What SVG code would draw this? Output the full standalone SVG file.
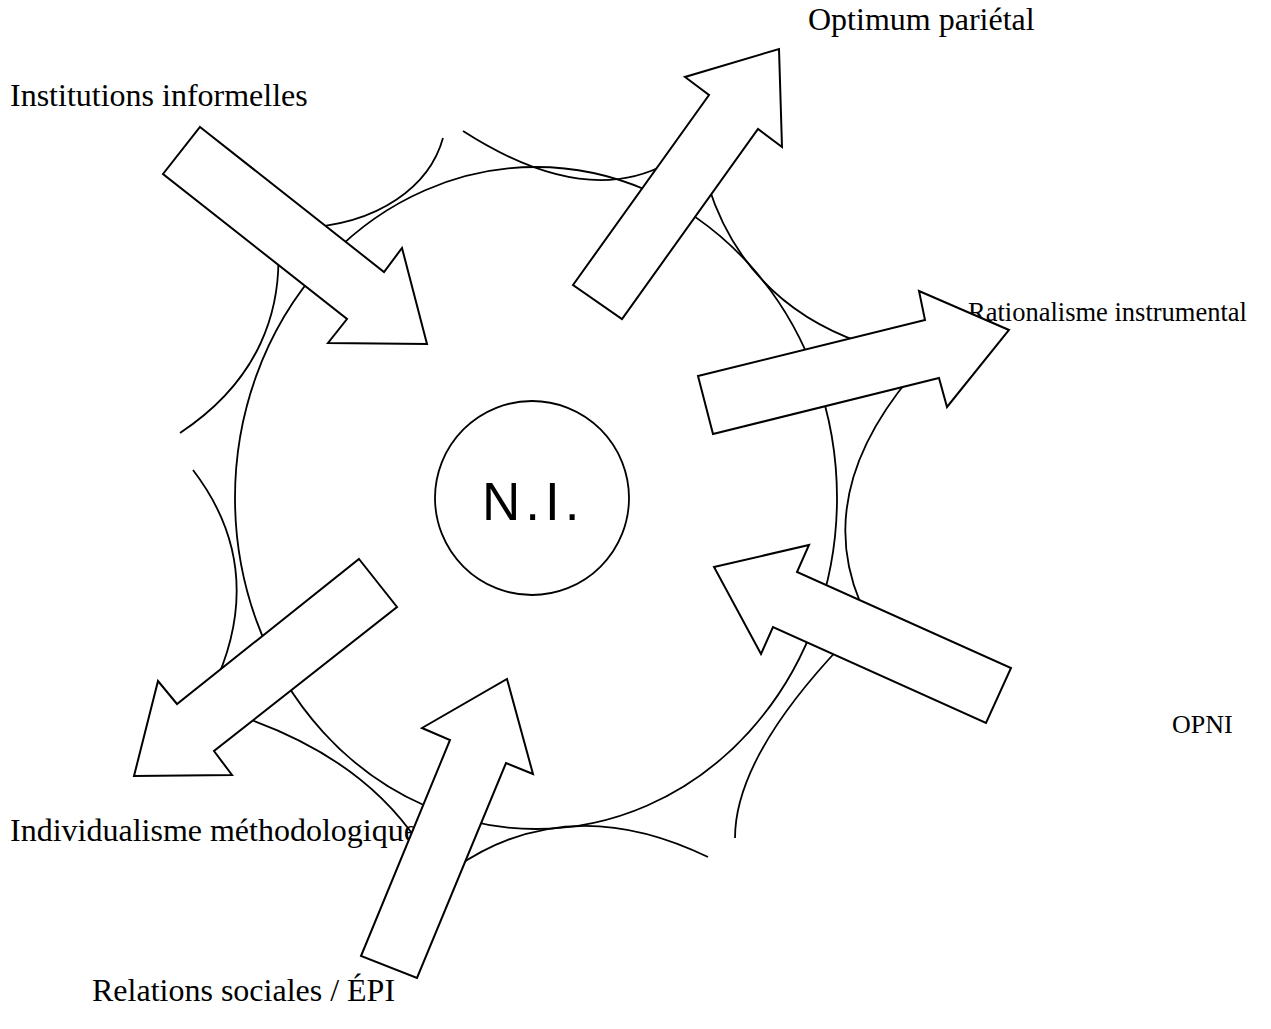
<svg xmlns="http://www.w3.org/2000/svg" width="1271" height="1029" viewBox="0 0 1271 1029">
<style>
.ln{fill:none;stroke:#000;stroke-width:1.8}
.ar{fill:#fff;stroke:#000;stroke-width:2;stroke-linejoin:miter}
.lb{font-family:"Liberation Serif","Times New Roman",serif;fill:#000}
.ni{font-family:"Liberation Sans",Arial,sans-serif;font-size:53px;fill:#000}
</style>
<rect width="1271" height="1029" fill="#fff"/>
<g id="ring"><ellipse cx="536" cy="498" rx="301" ry="331" class="ln"/></g>
<g id="arcs">
<path class="ln" d="M463,131 Q584.5,209 668,163"/>
<path class="ln" d="M708,185 Q745,302 862,343"/>
<path class="ln" d="M912,375 Q814,491.5 860,602"/>
<path class="ln" d="M842,645 Q735,758 735,838"/>
<path class="ln" d="M708,857 Q568.5,789.5 455,868"/>
<path class="ln" d="M240,716 Q361,757 418,842"/>
<path class="ln" d="M193,470 Q269.5,570 212,690"/>
<path class="ln" d="M278,245 C282,310 260,380 180,433"/>
<path class="ln" d="M443,138 C430,185 380,225 300,228"/>
</g>
<g id="ni"><circle cx="532" cy="498" r="97" class="ln"/><text class="ni" x="482" y="520" letter-spacing="5">N.I.</text></g>
<g id="labels" class="lb">
<text x="10" y="106" font-size="32">Institutions informelles</text>
<text x="808" y="30" font-size="32">Optimum pariétal</text>
<text x="968" y="321" font-size="26.5">Rationalisme instrumental</text>
<text x="1172" y="733" font-size="26">OPNI</text>
<text x="10" y="841" font-size="32">Individualisme méthodologique</text>
<text x="92" y="1001" font-size="32">Relations sociales / ÉPI</text>
</g>
<g id="arrows">
<g id="arrow-institutions"><polygon class="ar" points="200,127 384,272 402,248 427,344 328,343 347,319 163,174"/></g>
<g id="arrow-optimum"><polygon class="ar" points="573,285 709,95 685,77 779,49 782,147 758,129 622,319"/></g>
<g id="arrow-rationalisme"><polygon class="ar" points="698,376 925,320 919,291 1009,330 947,407 939,378 713,434"/></g>
<g id="arrow-opni"><polygon class="ar" points="714,567 809,545 797,572 1011,668 986,723 773,627 761,654"/></g>
<g id="arrow-individualisme"><polygon class="ar" points="359,559 397,607 214,751 232,775 134,776 158,681 177,704"/></g>
<g id="arrow-relations"><polygon class="ar" points="507,679 533,774 506,763 417,978 361,956 450,740 422,728"/></g>
</g>
</svg>
